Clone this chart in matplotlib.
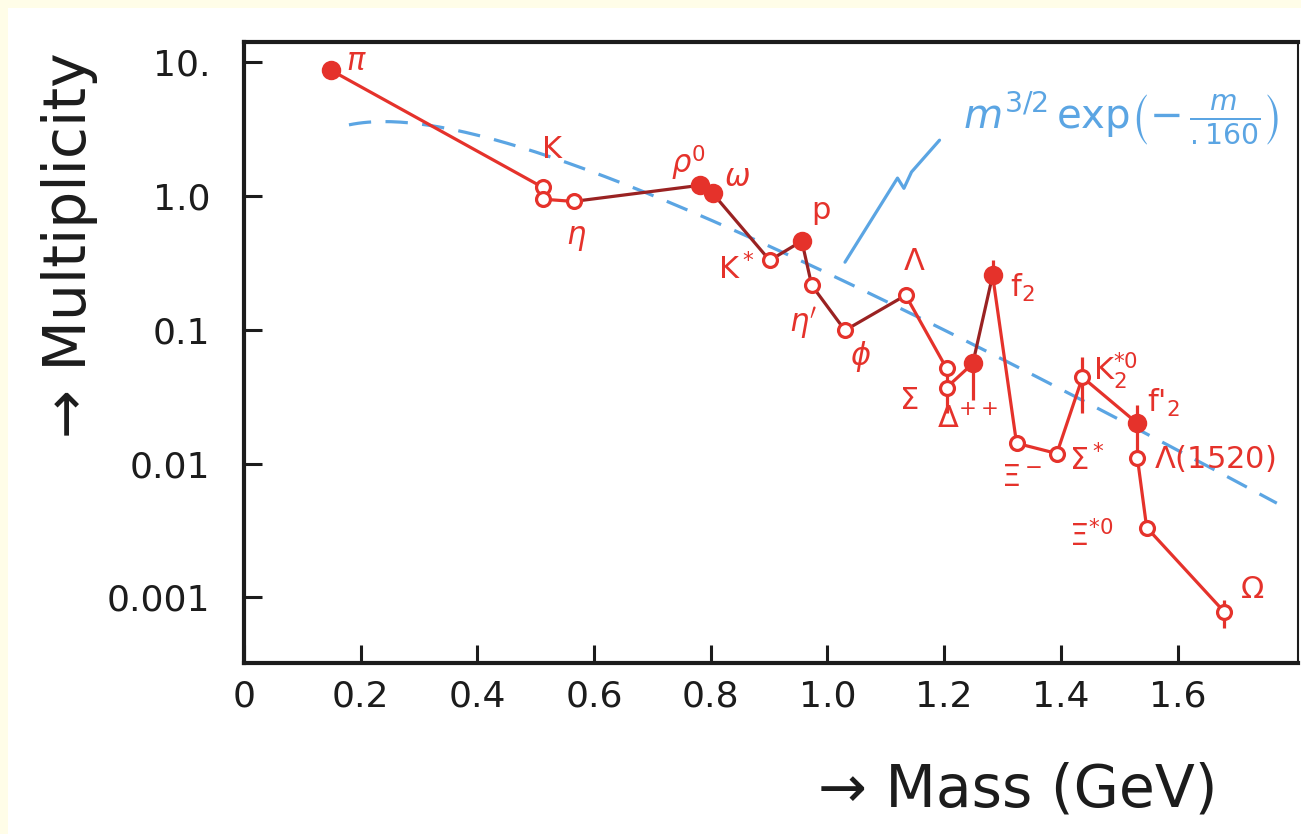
import numpy as np
import matplotlib.pyplot as plt
from matplotlib.patches import Rectangle

# particle masses (GeV) and multiplicities, in the order the red line joins them
masses = [0.149, 0.512, 0.512, 0.565, 0.781, 0.803, 0.901, 0.956, 0.973, 1.030,
          1.134, 1.204, 1.204, 1.249, 1.283, 1.324, 1.393, 1.437, 1.531, 1.531,
          1.547, 1.680]
mult = [8.7, 1.16, 0.946, 0.91, 1.2, 1.05, 0.33, 0.46, 0.215, 0.099,
        0.181, 0.0515, 0.037, 0.056, 0.255, 0.0142, 0.0119, 0.0442, 0.020, 0.0111,
        0.00333, 0.00078]
filled = [1, 0, 0, 0, 1, 1, 0, 1, 0, 0,
          0, 0, 0, 1, 1, 0, 0, 0, 1, 0,
          0, 0]
names = [r"$\pi$", "K", "", r"$\eta$", r"$\rho^0$", r"$\omega$", r"K$^*$", "p", r"$\eta'$", r"$\phi$",
         r"$\Lambda$", r"$\Sigma$", "", r"$\Delta^{++}$", r"f$_2$", r"$\Xi^-$", r"$\Sigma^*$", r"K$_2^{*0}$", r"f$'_2$", r"$\Lambda$(1520)",
         r"$\Xi^{*0}$", r"$\Omega$"]
# label offsets from the marker, points
label_dx = [18, 7, 0, 2, -8, 18, -24, 14, -6, 11,
            6, -27, 0, -4, 21, 4, 22, 24, 19, 12,
            -40, 20]
label_dy = [6, 27, 0, -27, 16, 11, -6, 22, -27, -19,
            24, -23, 0, -40, -9, -25, -5, 5, 15, -1,
            -6, 16]

# error bars: mass, lower end, upper end
bar_mass = [1.204, 1.249, 1.283, 1.437, 1.531, 1.680]
bar_low = [0.0238, 0.0297, 0.255, 0.0238, 0.020, 0.00059]
bar_high = [0.037, 0.056, 0.331, 0.0622, 0.0273, 0.00095]

# thermal curve m^{3/2} exp(-m/T)
temperature = 0.160
curve_norm = 137.0
curve_range = (0.18, 1.77)

# pointer from the curve to its formula
leader_m = [1.030, 1.120, 1.131, 1.144, 1.192]
leader_y = [0.32, 1.36, 1.14, 1.51, 2.61]

xticks = [0, 0.2, 0.4, 0.6, 0.8, 1.0, 1.2, 1.4, 1.6]
xtick_labels = ["0", "0.2", "0.4", "0.6", "0.8", "1.0", "1.2", "1.4", "1.6"]
yticks = [10, 1, 0.1, 0.01, 0.001]
ytick_labels = ["10.", "1.0", "0.1", "0.01", "0.001"]

red = "#e5322b"
dark_red = "#9a2222"
blue = "#5ba5e3"
ink = "#1c1c1c"
# segments (by start index) drawn over twice, which makes them darker
dark_links = [3, 5, 6, 7, 8, 9, 13]

fig = plt.figure(figsize=(13.01, 8.34), dpi=100, facecolor="#fffde8")
fig.patches.append(Rectangle((8 / 1301, 0), 1, 1 - 8 / 834, transform=fig.transFigure,
                             facecolor="white", edgecolor="none", zorder=-10))
ax = fig.add_axes([0.1875, 0.205, 0.8105, 0.7446])
ax.set_facecolor("none")
ax.set_yscale("log")
ax.set_xlim(0, 1.807)
ax.set_ylim(10 ** -3.49, 10 ** 1.15)

m_curve = np.linspace(*curve_range, 200)
ax.plot(m_curve, curve_norm * m_curve ** 1.5 * np.exp(-m_curve / temperature),
        color=blue, lw=2.3, ls=(0, (7, 4.5)), zorder=1)
ax.plot(leader_m, leader_y, color=blue, lw=2.3, solid_capstyle="round", solid_joinstyle="round")
ax.text(1.232, 3.8, r"$m^{3/2}\,\mathrm{exp}\left(-\,\frac{m}{.160}\right)$",
        color=blue, fontsize=29, ha="left", va="center")

for i in range(len(masses) - 1):
    ax.plot(masses[i:i + 2], mult[i:i + 2], color=dark_red if i in dark_links else red,
            lw=2.3, zorder=2, solid_capstyle="round")
ax.vlines(bar_mass, bar_low, bar_high, color=red, lw=2.3, zorder=2)

m_arr = np.array(masses)
y_arr = np.array(mult)
f_arr = np.array(filled, dtype=bool)
ax.plot(m_arr[f_arr], y_arr[f_arr], "o", ms=12, mfc=red, mec=red, mew=2, zorder=3)
ax.plot(m_arr[~f_arr], y_arr[~f_arr], "o", ms=10, mfc="white", mec=red, mew=2.3, zorder=3)

for m, y, name, dx, dy in zip(masses, mult, names, label_dx, label_dy):
    if name:
        ax.annotate(name, (m, y), xytext=(dx, dy), textcoords="offset points",
                    color=red, fontsize=22, ha="left" if name.endswith("(1520)") else "center",
                    va="center")

ax.set_xticks(xticks, xtick_labels)
ax.set_yticks(yticks, ytick_labels)
ax.minorticks_off()
ax.tick_params(direction="in", length=13, width=2.2, color=ink, labelcolor=ink,
               labelsize=26, top=False, right=False)
ax.tick_params(axis="y", pad=24)
ax.tick_params(axis="x", pad=12)
for side in ["left", "bottom", "top"]:
    ax.spines[side].set_linewidth(3)
    ax.spines[side].set_color(ink)
ax.spines["right"].set_linewidth(1.5)
ax.spines["right"].set_color(ink)

fig.text(70 / 1301, 1 - 245 / 834, "→ Multiplicity", rotation=90, color=ink,
         fontsize=42, ha="center", va="center")
fig.text(1018 / 1301, 1 - 790 / 834, "→ Mass (GeV)", color=ink,
         fontsize=42, ha="center", va="center")

fig.savefig("out.png", dpi=100, facecolor=fig.get_facecolor())
